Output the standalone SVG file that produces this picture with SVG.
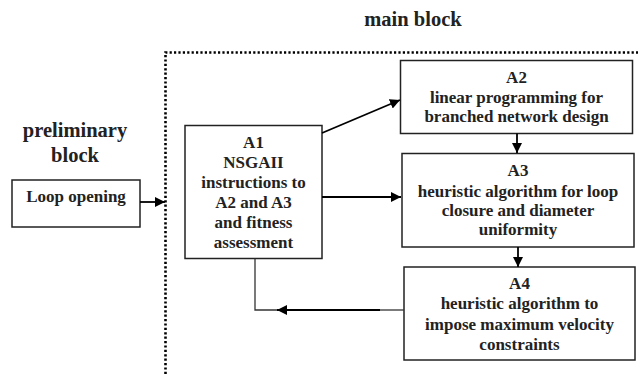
<svg xmlns="http://www.w3.org/2000/svg" width="638" height="374" viewBox="0 0 638 374">
<style>
text{font-family:"Liberation Serif","Times New Roman",serif;font-weight:bold;fill:#222;text-anchor:middle}
.t{font-size:17px}
.h{font-size:20.5px}
.box{fill:#fff;stroke:#222;stroke-width:1.5}
.c{fill:none;stroke:#000;stroke-width:1.8}
.thin{fill:none;stroke:#333;stroke-width:1.3}
</style>
<defs>
<marker id="ah" viewBox="0 0 10 10" refX="10" refY="5" markerWidth="10" markerHeight="10" markerUnits="userSpaceOnUse" orient="auto">
<path d="M0,0 L10,5 L0,10 z" fill="#000"/>
</marker>
</defs>
<path d="M165.5,374 L165.5,52.5 L638,52.5" fill="none" stroke="#000" stroke-width="2.6" stroke-dasharray="2.2,2.2"/>
<text class="h" x="413" y="26">main block</text>
<text class="h" x="75" y="137">preliminary</text>
<text class="h" x="75" y="162">block</text>
<g id="loop">
<rect class="box" x="12" y="180" width="128" height="47"/>
<text class="t" x="76" y="202">Loop opening</text>
</g>
<g id="A1">
<rect class="box" x="185" y="125.5" width="137" height="133"/>
<text class="t" x="253.5" y="148">A1</text>
<text class="t" x="253.5" y="168">NSGAII</text>
<text class="t" x="253.5" y="188">instructions to</text>
<text class="t" x="253.5" y="208">A2 and A3</text>
<text class="t" x="253.5" y="228">and fitness</text>
<text class="t" x="253.5" y="248">assessment</text>
</g>
<g id="A2">
<rect class="box" x="400.5" y="60.5" width="232" height="73"/>
<text class="t" x="516.5" y="83">A2</text>
<text class="t" x="516.5" y="103">linear programming for</text>
<text class="t" x="516.5" y="122">branched network design</text>
</g>
<g id="A3">
<rect class="box" x="402" y="153.5" width="232" height="93.5"/>
<text class="t" x="518" y="176">A3</text>
<text class="t" x="518" y="197">heuristic algorithm for loop</text>
<text class="t" x="518" y="216">closure and diameter</text>
<text class="t" x="518" y="235">uniformity</text>
</g>
<g id="A4">
<rect class="box" x="404" y="267" width="231" height="93"/>
<text class="t" x="519.5" y="289">A4</text>
<text class="t" x="519.5" y="309">heuristic algorithm to</text>
<text class="t" x="519.5" y="330">impose maximum velocity</text>
<text class="t" x="519.5" y="350">constraints</text>
</g>
<g id="connectors">
<path class="c" d="M140,202 L165,202" marker-end="url(#ah)"/>
<path class="c" d="M322,133 L400,100" marker-end="url(#ah)"/>
<path class="c" d="M322,197 L401,197" marker-end="url(#ah)"/>
<path class="c" d="M517,133.5 L517,153" marker-end="url(#ah)"/>
<path class="c" d="M518,247 L518,267" marker-end="url(#ah)"/>
<path class="c" d="M380,310 L277,310" marker-end="url(#ah)"/>
<path class="thin" d="M404,310 L380,310"/>
<path class="thin" d="M277,310 L255,310 L255,258.5"/>
</g>
</svg>
